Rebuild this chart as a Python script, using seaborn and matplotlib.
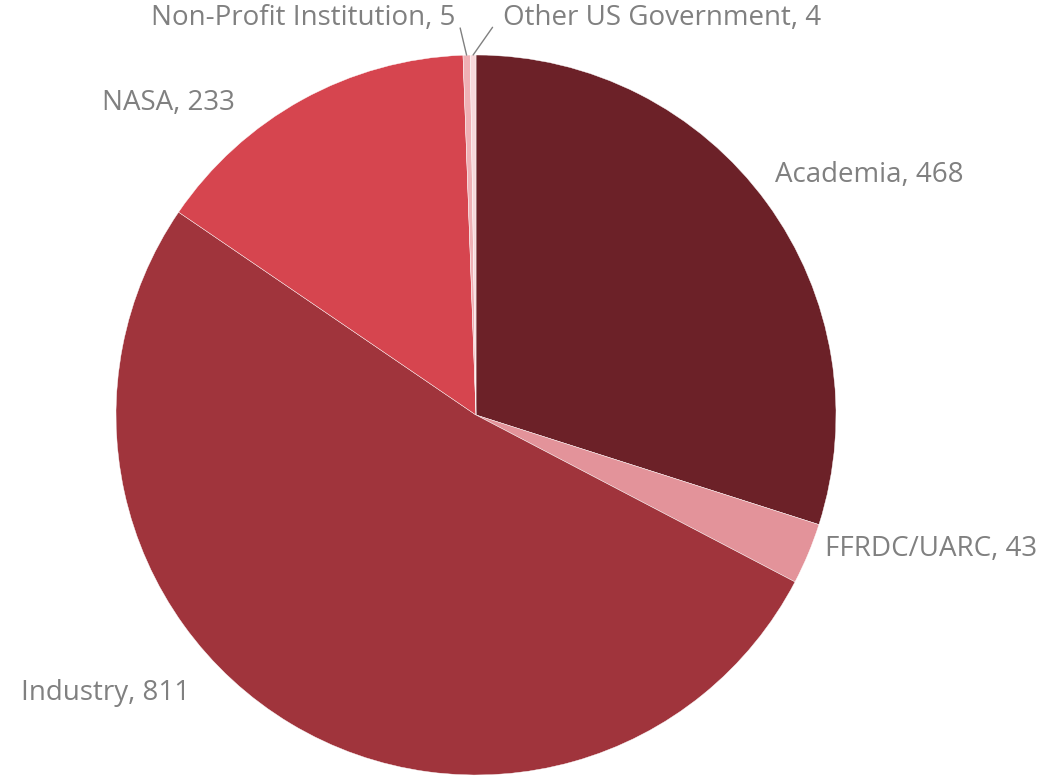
import matplotlib
matplotlib.use("Agg")
import matplotlib.pyplot as plt
import seaborn as sns
import numpy as np

categories = ["Academia", "FFRDC/UARC", "Industry", "NASA", "Non-Profit Institution", "Other US Government"]
values = [468, 43, 811, 233, 5, 4]
colors = ["#6C2128", "#E3939A", "#A0343C", "#D6454F", "#EFB0B5", "#F8D8DB"]

sns.set_theme(style="white")
plt.rcParams['font.family'] = ['Open Sans', 'DejaVu Sans']

fig = plt.figure(figsize=(10.59, 7.78), dpi=100)
ax = fig.add_axes([116/1059, 3/778, 720/1059, 720/778])
wedges, _ = ax.pie(values, colors=colors, startangle=90, counterclock=False,
                   radius=1.0, wedgeprops=dict(edgecolor="white", linewidth=0.3))
ax.set_xlim(-1, 1)
ax.set_ylim(-1, 1)
ax.set_aspect("equal")
ax.axis("off")

# label layout (positions in axes data units)
label_pos = [(0.831, 0.667, "left"), (0.969, -0.372, "left"), (-0.794, -0.772, "right"),
             (-0.669, 0.867, "right"), (-0.058, 1.103, "right"), (0.075, 1.103, "left")]
leader_start = {4: (-0.044, 1.075), 5: (0.046, 1.077)}

for i, (cat, val) in enumerate(zip(categories, values)):
    x, y, ha = label_pos[i]
    ax.text(x, y, f"{cat}, {val}", ha=ha, va="center", fontsize=20, color="#808080",
            clip_on=False)
    if i in leader_start:
        w = wedges[i]
        theta = np.deg2rad((w.theta1 + w.theta2) / 2)
        ex, ey = np.cos(theta), np.sin(theta)
        sx, sy = leader_start[i]
        ax.plot([sx, ex], [sy, ey], color="#808080", lw=1, clip_on=False)

fig.savefig("out.png", dpi=100, facecolor="white")
